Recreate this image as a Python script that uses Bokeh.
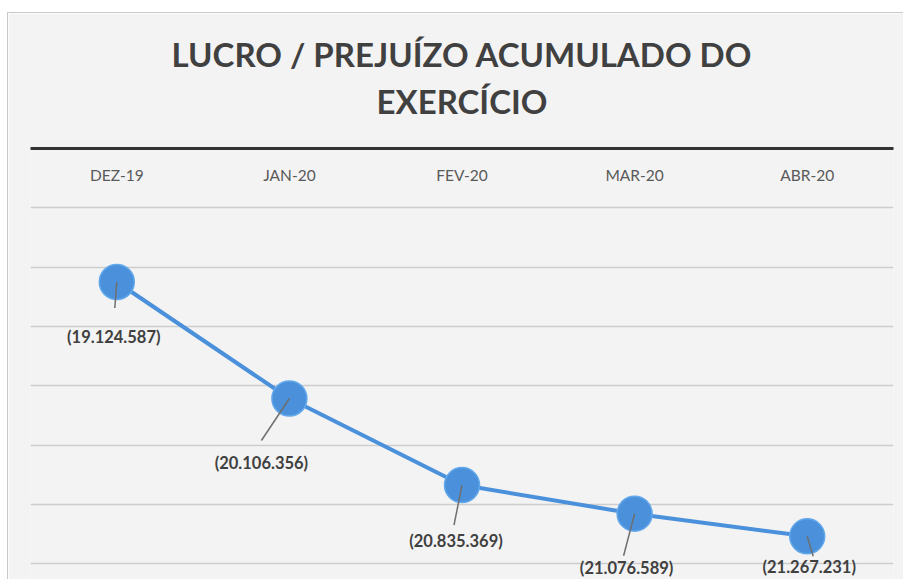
from bokeh.plotting import figure
from bokeh.models import Range1d, Title, FixedTicker
from bokeh.core.properties import value
from bokeh.embed import file_html
from bokeh.resources import INLINE

# ---- data ----
categories = ["DEZ-19", "JAN-20", "FEV-20", "MAR-20", "ABR-20"]
values = [-19124587, -20106356, -20835369, -21076589, -21267231]
grid_values = [-18500000, -19000000, -19500000, -20000000, -20500000, -21000000, -21500000]
axis_value = -18000000
title_lines = ["LUCRO / PREJUÍZO ACUMULADO DO", "EXERCÍCIO"]


def fmt(v):
    s = f"{abs(v):,}".replace(",", ".")
    return f"({s})" if v < 0 else s


value_labels = [fmt(v) for v in values]
xs = list(range(len(categories)))

# ---- layout ----
W, H = 896, 567
ML, MR, MT, MB = 22, 11, 135, 0
fw = W - ML - MR
fh = H - MT - MB
px_per_y = 118.7 / 1e6
y_top = axis_value
y_bot = y_top - fh / px_per_y
x_lo, x_hi = -0.5, len(categories) - 0.5
px_per_x = fw / (x_hi - x_lo)

BG = "#f3f3f3"
BLUE = "#4a90da"
TXT = "#404040"
FONT = "Lato"

p = figure(width=W, height=H, output_backend="svg", toolbar_location=None,
           x_range=Range1d(x_lo, x_hi), y_range=Range1d(y_bot, y_top),
           x_axis_location="above", min_border_left=ML, min_border_right=MR,
           min_border_top=MT, min_border_bottom=MB,
           background_fill_color=BG, border_fill_color=BG)
p.outline_line_color = None
p.yaxis.visible = False
p.xgrid.visible = False
p.ygrid.ticker = FixedTicker(ticks=grid_values)
p.ygrid.grid_line_color = "#cdcdcd"
p.ygrid.grid_line_width = 1.6

xa = p.xaxis[0]
xa.ticker = FixedTicker(ticks=[])
xa.axis_line_color = "#333333"
xa.axis_line_width = 3
xa.major_tick_out = 0
xa.major_tick_in = 0
xa.minor_tick_out = 0
xa.minor_tick_in = 0
xa.major_label_standoff = 0

# title (two lines) with a blank spacer between it and the axis line
spacer = Title(text=" ", text_font_size="10px", standoff=12)
t2 = Title(text=title_lines[1], align="center", text_font=FONT, text_font_size="33px",
           text_font_style="bold", text_color=TXT, standoff=5)
t1 = Title(text=title_lines[0], align="center", text_font=FONT, text_font_size="33px",
           text_font_style="bold", text_color=TXT, standoff=6)
p.add_layout(spacer, "above")
p.add_layout(t2, "above")
p.add_layout(t1, "above")

# category labels (sit just below the axis line)
p.text(x=xs, y=[axis_value] * len(xs), text=categories, y_offset=26,
       text_align="center", text_baseline="middle", text_font=value(FONT),
       text_font_size="15.5px", text_color="#595959")

# line + markers
p.line(xs, values, line_color=BLUE, line_width=4)
p.scatter(xs, values, size=35, fill_color=BLUE, line_color="#62a8ec", line_width=1.5)

# leader lines and data labels
lead_dx = [-2, -28, -8, -11, 6]
lead_dy = [26, 42, 40, 42, 20]
lab_dx = [-3, -28, -6, -8, 2]
lab_dy = [55, 64, 56, 54, 31]
x1 = [x + dx / px_per_x for x, dx in zip(xs, lead_dx)]
y1 = [v - dy / px_per_y for v, dy in zip(values, lead_dy)]
p.segment(x0=xs, y0=values, x1=x1, y1=y1, line_color="#6f6f6f", line_width=1.5)
p.text(x=xs, y=values, text=value_labels, x_offset=lab_dx, y_offset=lab_dy,
       text_align="center", text_baseline="middle", text_font=value(FONT),
       text_font_size="16.5px", text_font_style="bold", text_color=TXT)

p.styles = {"margin-left": "7px", "margin-top": "12px",
            "border-left": "1px solid #c8c8c8", "border-top": "1px solid #c8c8c8"}

open("out.html", "w").write(file_html(p, INLINE))
